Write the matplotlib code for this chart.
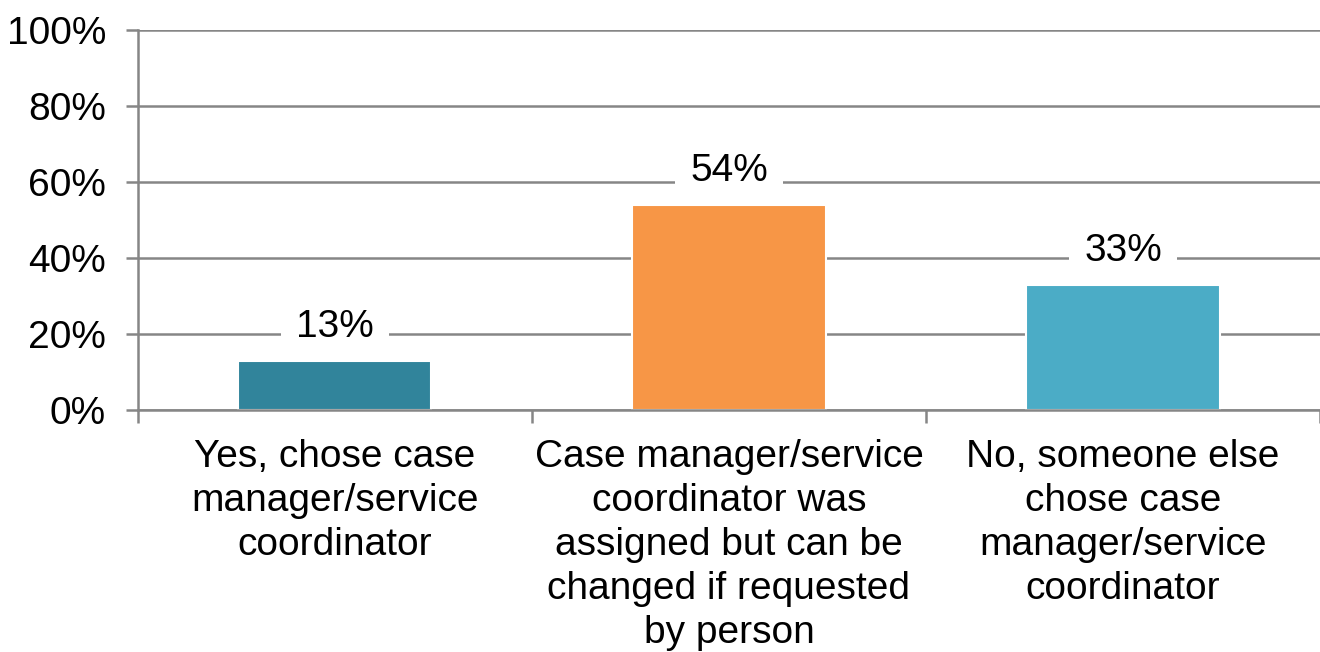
import matplotlib
matplotlib.use("Agg")
import matplotlib.pyplot as plt
import numpy as np

plt.rcParams['font.family'] = ['Liberation Sans', 'DejaVu Sans']

categories = ["Yes, chose case\nmanager/service\ncoordinator",
              "Case manager/service\ncoordinator was\nassigned but can be\nchanged if requested\nby person",
              "No, someone else\nchose case\nmanager/service\ncoordinator"]
values = [13, 54, 33]
colors = ["#31849B", "#F79646", "#4BACC6"]
yticks = [0, 20, 40, 60, 80, 100]

grey = "#868686"

fig = plt.figure(figsize=(13.2, 6.52), dpi=100)
ax = fig.add_axes([0.1045, 0.371, 0.8955, 0.583])

x = np.arange(len(values))
ax.grid(axis='y', color=grey, linewidth=1.8, zorder=0)
ax.set_axisbelow(True)
ax.bar(x, values, width=0.49, color=colors, edgecolor='white', linewidth=1.5, zorder=2)

for xi, v in zip(x, values):
    ax.text(xi, v + 8.8, f"{v}%", ha='center', va='center', fontsize=28,
            bbox=dict(facecolor='white', edgecolor='none', pad=11), zorder=3)

ax.set_xlim(-0.5, 2.5)
ax.set_ylim(0, 100)
ax.set_yticks(yticks)
ax.set_yticklabels([f"{t}%" for t in yticks], fontsize=28)

# category labels between boundary ticks
ax.set_xticks([-0.5, 0.5, 1.5, 2.5])
ax.set_xticklabels([])
ax.set_xticks(x, minor=True)
ax.set_xticklabels(categories, minor=True, fontsize=28, linespacing=1.28)
ax.tick_params(axis='x', which='minor', length=0, pad=21)
ax.tick_params(axis='x', which='major', length=9, width=1.8, color=grey)
ax.tick_params(axis='y', length=9, width=1.8, color=grey, pad=14)

for s in ['top', 'right']:
    ax.spines[s].set_visible(False)
for s in ['left', 'bottom']:
    ax.spines[s].set_color(grey)
    ax.spines[s].set_linewidth(1.8)

fig.savefig("out.png", dpi=100)
